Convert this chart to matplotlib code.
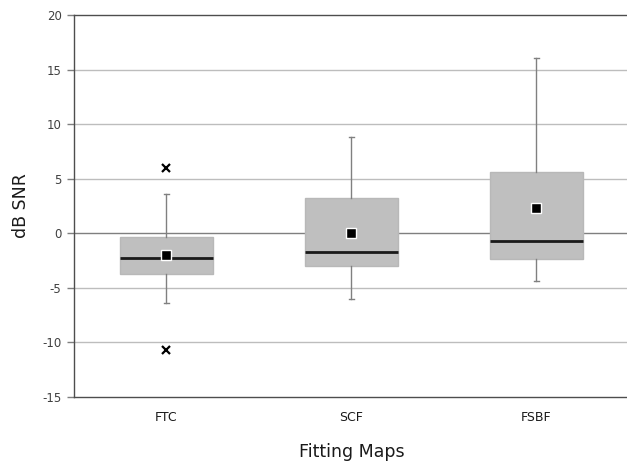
import matplotlib
matplotlib.use("Agg")
import matplotlib.pyplot as plt

categories = ["FTC", "SCF", "FSBF"]
whisker_low = [-6.4, -6.0, -4.4]
q1 = [-3.75, -3.0, -2.35]
medians = [-2.3, -1.7, -0.75]
q3 = [-0.3, 3.2, 5.65]
whisker_high = [3.6, 8.85, 16.05]
means = [-2.0, 0.0, 2.3]
outliers = [[6.0, -10.7], [], []]

yticks = [-15, -10, -5, 0, 5, 10, 15, 20]

stats = []
for i, c in enumerate(categories):
    stats.append(dict(label=c, whislo=whisker_low[i], q1=q1[i], med=medians[i],
                      q3=q3[i], whishi=whisker_high[i], mean=means[i],
                      fliers=outliers[i]))

fig = plt.figure(figsize=(6.27, 4.61), dpi=100)
ax = fig.add_axes([74/627, 1-397/461, 555/627, (397-15)/461])

for y in yticks:
    if y == 0:
        ax.axhline(y, color="#7f7f7f", lw=1.0, zorder=0.5)
    elif y not in (-15, 20):
        ax.axhline(y, color="#bdbdbd", lw=1.0, zorder=0.5)

ax.bxp(stats, positions=[1, 2, 3], widths=0.5, patch_artist=True,
       showmeans=True, capwidths=0.03,
       boxprops=dict(facecolor="#bfbfbf", edgecolor="#b8b8b8", lw=1.0),
       whiskerprops=dict(color="#808080", lw=1.0),
       capprops=dict(color="#808080", lw=1.0),
       medianprops=dict(color="#1a1a1a", lw=2.0),
       meanprops=dict(marker="s", markerfacecolor="black", markeredgecolor="white",
                      markeredgewidth=1.0, markersize=7.5),
       flierprops=dict(marker="x", markeredgecolor="black", markerfacecolor="black",
                       markersize=5.5, markeredgewidth=1.6))

ax.set_xlim(0.5, 3.5)
ax.set_ylim(-15, 20)
ax.set_yticks(yticks)
ax.set_yticklabels([str(v) for v in yticks], fontsize=8.5, color="#404040")
ax.tick_params(axis="y", length=5, width=1, color="#7f7f7f", pad=4)
ax.tick_params(axis="x", length=0, pad=10, labelsize=9, labelcolor="#1a1a1a")
ax.set_xticks([1, 2, 3])
ax.set_xticklabels(categories)

for s in ["left", "bottom", "top"]:
    ax.spines[s].set_color("#4d4d4d")
    ax.spines[s].set_linewidth(1.0)
ax.spines["right"].set_visible(False)

ax.set_ylabel("dB SNR", fontsize=12.5, labelpad=9, color="#1a1a1a")
ax.set_xlabel("Fitting Maps", fontsize=12.5, labelpad=14, color="#1a1a1a")

fig.savefig("out.png", dpi=100)
